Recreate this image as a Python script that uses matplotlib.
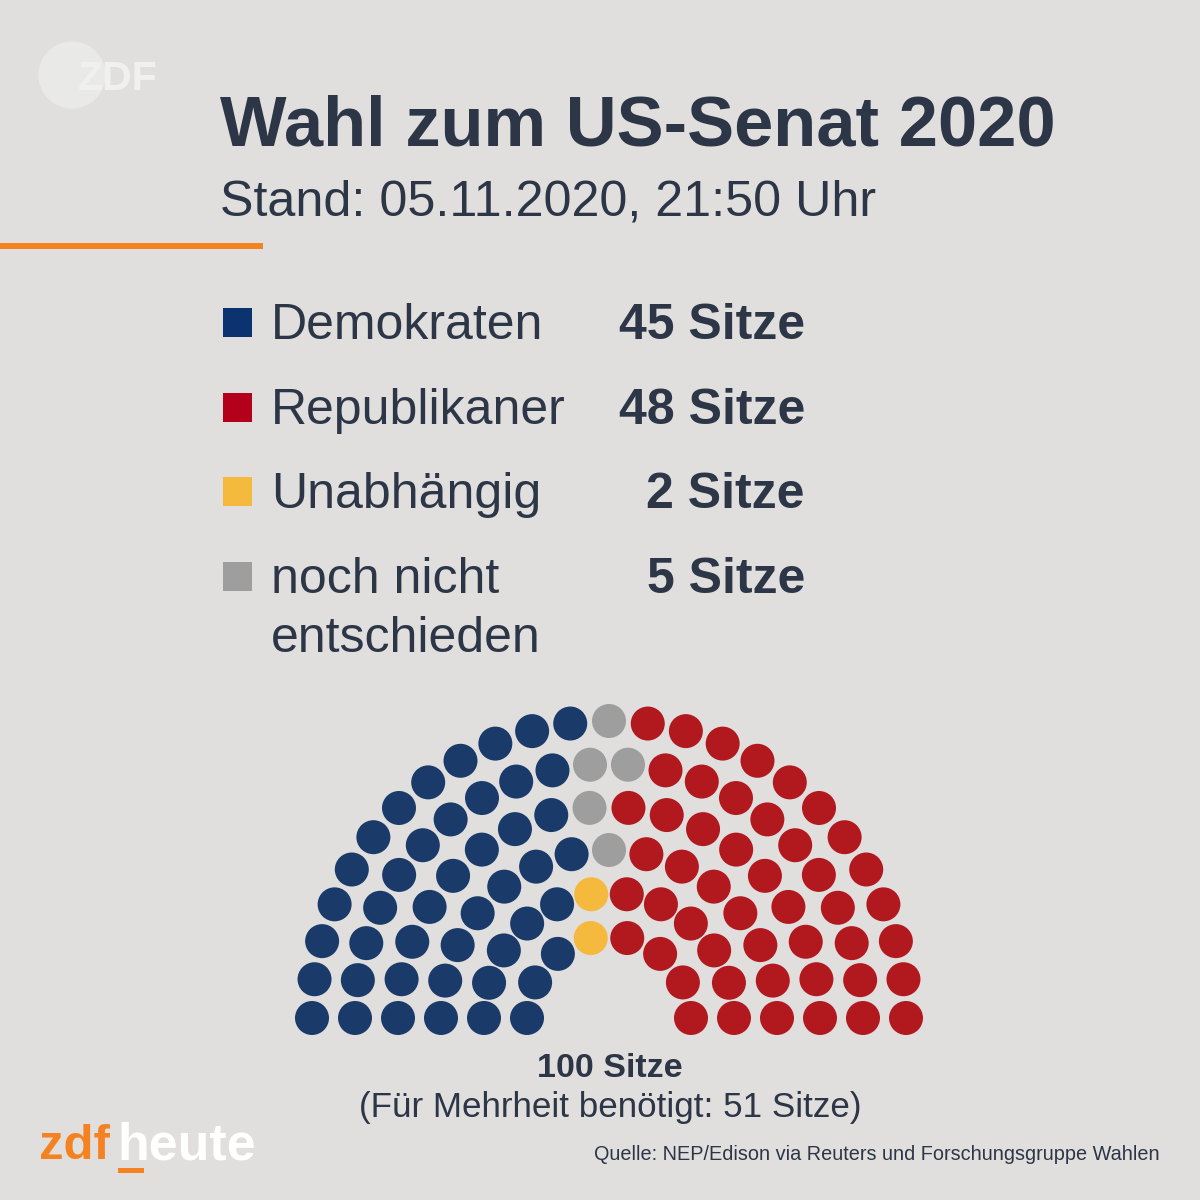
import matplotlib
matplotlib.use("Agg")
import matplotlib.pyplot as plt
from matplotlib.patches import Circle, Rectangle
import numpy as np

# ---------------- data ----------------
title = "Wahl zum US-Senat 2020"
subtitle = "Stand: 05.11.2020, 21:50 Uhr"
parties = ["Demokraten", "Republikaner", "Unabhängig", "noch nicht\nentschieden"]
seat_totals = [45, 48, 2, 5]
legend_colors = ["#0b336f", "#b3001b", "#f5b93e", "#9e9e9e"]

# hemicycle rows (outer -> inner), seats per row
row_seats = [25, 22, 18, 15, 12, 8]
# per-row seat counts, ordered left to right: Dem, Ind, Undecided, Rep
dem_row = [12, 10, 8, 7, 5, 3]
ind_row = [0, 0, 0, 0, 1, 1]
und_row = [1, 2, 1, 1, 0, 0]
rep_row = [12, 10, 9, 7, 6, 4]
seat_colors = ["#1a3a6a", "#f5b93e", "#9e9e9e", "#b2191f"]

total_label = "100 Sitze"
majority_label = "(Für Mehrheit benötigt: 51 Sitze)"
source = "Quelle: NEP/Edison via Reuters und Forschungsgruppe Wahlen"

# ---------------- styling ----------------
BG = "#e0dfde"
TXT = "#2d3646"
ORANGE = "#f58220"
FONT = "Liberation Sans"
PX = 0.72  # points per pixel at dpi 100

fig = plt.figure(figsize=(12, 12), dpi=100, facecolor=BG)
ax = fig.add_axes([0, 0, 1, 1])
ax.set_xlim(0, 1200)
ax.set_ylim(1200, 0)
ax.set_aspect("equal")
ax.axis("off")
ax.set_facecolor(BG)

# ZDF watermark logo
ax.add_patch(Circle((72, 75), 33, color="#e9e9e8", zorder=1))
ax.text(78, 90, "ZDF", fontsize=41 * PX, fontweight="bold", family=FONT,
        color="#f0f0f0", va="baseline", ha="left", zorder=2)

# Title and subtitle
ax.text(220, 146, title, fontsize=70.5 * PX, fontweight="bold", family=FONT,
        color=TXT, va="baseline", ha="left")
ax.text(220, 215, subtitle, fontsize=50.3 * PX, family=FONT,
        color=TXT, va="baseline", ha="left")

# orange rule
ax.add_patch(Rectangle((0, 243), 263, 6, color=ORANGE, lw=0))

# legend
baselines = [339, 424, 508, 593]
for name, n, col, yb in zip(parties, seat_totals, legend_colors, baselines):
    ax.add_patch(Rectangle((223, yb - 31), 29, 29, color=col, lw=0))
    lines = name.split("\n")
    for k, ln in enumerate(lines):
        ax.text(271, yb + 59 * k, ln, fontsize=50 * PX, family=FONT, color=TXT,
                va="baseline", ha="left")
    ax.text(805, yb, f"{n} Sitze", fontsize=50 * PX, fontweight="bold",
            family=FONT, color=TXT, va="baseline", ha="right")

# hemicycle
cx, cy = 609, 1018
r_outer, r_step, seat_r = 297, 43, 17
for i, nseats in enumerate(row_seats):
    r = r_outer - i * r_step
    angles = np.linspace(np.pi, 0, nseats)
    counts = [dem_row[i], ind_row[i], und_row[i], rep_row[i]]
    cols = []
    for c, k in zip(seat_colors, counts):
        cols += [c] * k
    for a, c in zip(angles, cols):
        ax.add_patch(Circle((cx + r * np.cos(a), cy - r * np.sin(a)), seat_r,
                            color=c, lw=0))

ax.text(610, 1077, total_label, fontsize=34 * PX, fontweight="bold", family=FONT,
        color=TXT, va="baseline", ha="center")
ax.text(610, 1117, majority_label, fontsize=35 * PX, family=FONT,
        color=TXT, va="baseline", ha="center")

# source
ax.text(1160, 1160, source, fontsize=19.9 * PX, family=FONT, color=TXT,
        va="baseline", ha="right")

# zdfheute logo
ax.text(39, 1159, "zdf", fontsize=49 * PX, fontweight="bold", family=FONT,
        color=ORANGE, va="baseline", ha="left")
ax.text(117, 1159, "heute", fontsize=52 * PX, fontweight="bold", family=FONT,
        color="white", va="baseline", ha="left")
ax.add_patch(Rectangle((118, 1168), 26, 5, color=ORANGE, lw=0))

fig.savefig("out.png", dpi=100, facecolor=BG)
